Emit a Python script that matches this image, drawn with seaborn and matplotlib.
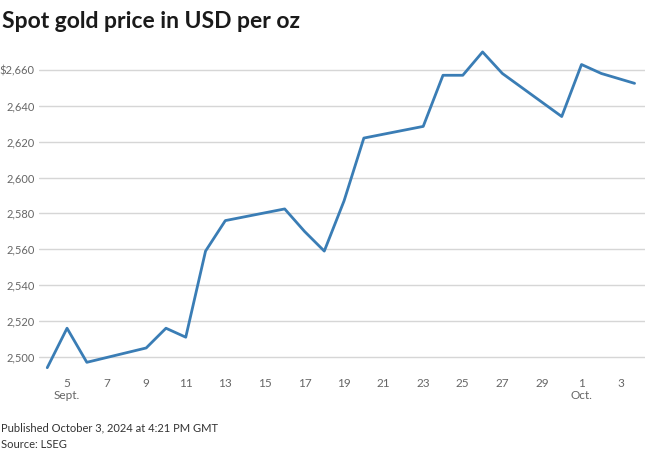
import pandas as pd
import matplotlib.pyplot as plt
import matplotlib.dates as mdates
import seaborn as sns

# Spot gold, USD per oz
dates = ["2024-09-04", "2024-09-05", "2024-09-06", "2024-09-09", "2024-09-10",
         "2024-09-11", "2024-09-12", "2024-09-13", "2024-09-16", "2024-09-17",
         "2024-09-18", "2024-09-19", "2024-09-20", "2024-09-23", "2024-09-24",
         "2024-09-25", "2024-09-26", "2024-09-27", "2024-09-30", "2024-10-01",
         "2024-10-02", "2024-10-03 16:21"]
prices = [2494, 2516, 2497, 2505, 2516, 2511, 2559, 2576, 2582.5, 2570,
          2559, 2587, 2622, 2628.5, 2657, 2657, 2670, 2658, 2634, 2663,
          2658, 2652.5]

tick_days = ["2024-09-05", "2024-09-07", "2024-09-09", "2024-09-11", "2024-09-13",
             "2024-09-15", "2024-09-17", "2024-09-19", "2024-09-21", "2024-09-23",
             "2024-09-25", "2024-09-27", "2024-09-29", "2024-10-01", "2024-10-03"]
tick_labels = ["5\nSept.", "7", "9", "11", "13", "15", "17", "19", "21", "23",
               "25", "27", "29", "1\nOct.", "3"]
y_ticks = [2500, 2520, 2540, 2560, 2580, 2600, 2620, 2640, 2660]

df = pd.DataFrame({"Date": pd.to_datetime(dates, format="mixed"), "Price": prices})

sns.set_style("white")
plt.rcParams["font.family"] = ["Lato", "DejaVu Sans"]

fig = plt.figure(figsize=(6.45, 4.54), dpi=100)
ax = fig.add_axes([39 / 645, 1 - 372 / 454, 606 / 645, 324 / 454])

sns.lineplot(data=df, x="Date", y="Price", ax=ax, color="#3a7db5", linewidth=2.0)

ax.set_xlim(pd.Timestamp("2024-09-03 14:00"), pd.Timestamp("2024-10-04 05:00"))
ax.set_ylim(2491.6, 2672.2)

ax.set_yticks(y_ticks)
ax.set_yticklabels(["$2,660" if v == 2660 else f"{v:,}" for v in y_ticks])
ax.set_xticks(mdates.date2num(pd.to_datetime(tick_days)))
ax.set_xticklabels(tick_labels)

ax.grid(axis="y", color="#d6d6d6", linewidth=1.0)
ax.grid(axis="x", visible=False)
for s in ax.spines.values():
    s.set_visible(False)
ax.tick_params(axis="both", length=0, labelcolor="#666666")
ax.tick_params(axis="x", labelsize=8.5, pad=4)
ax.tick_params(axis="y", labelsize=8, pad=3)
ax.set_xlabel("")
ax.set_ylabel("")

fig.text(2 / 645, 1 - 21 / 454, "Spot gold price in USD per oz", fontsize=16.5,
         fontweight="bold", color="#1a1a1a", va="center", ha="left")
fig.text(1 / 645, 1 - 428 / 454, "Published October 3, 2024 at 4:21 PM GMT",
         fontsize=8, color="#333333", va="center", ha="left")
fig.text(1 / 645, 1 - 444 / 454, "Source: LSEG", fontsize=8, color="#333333",
         va="center", ha="left")

fig.savefig("out.png", dpi=100)
